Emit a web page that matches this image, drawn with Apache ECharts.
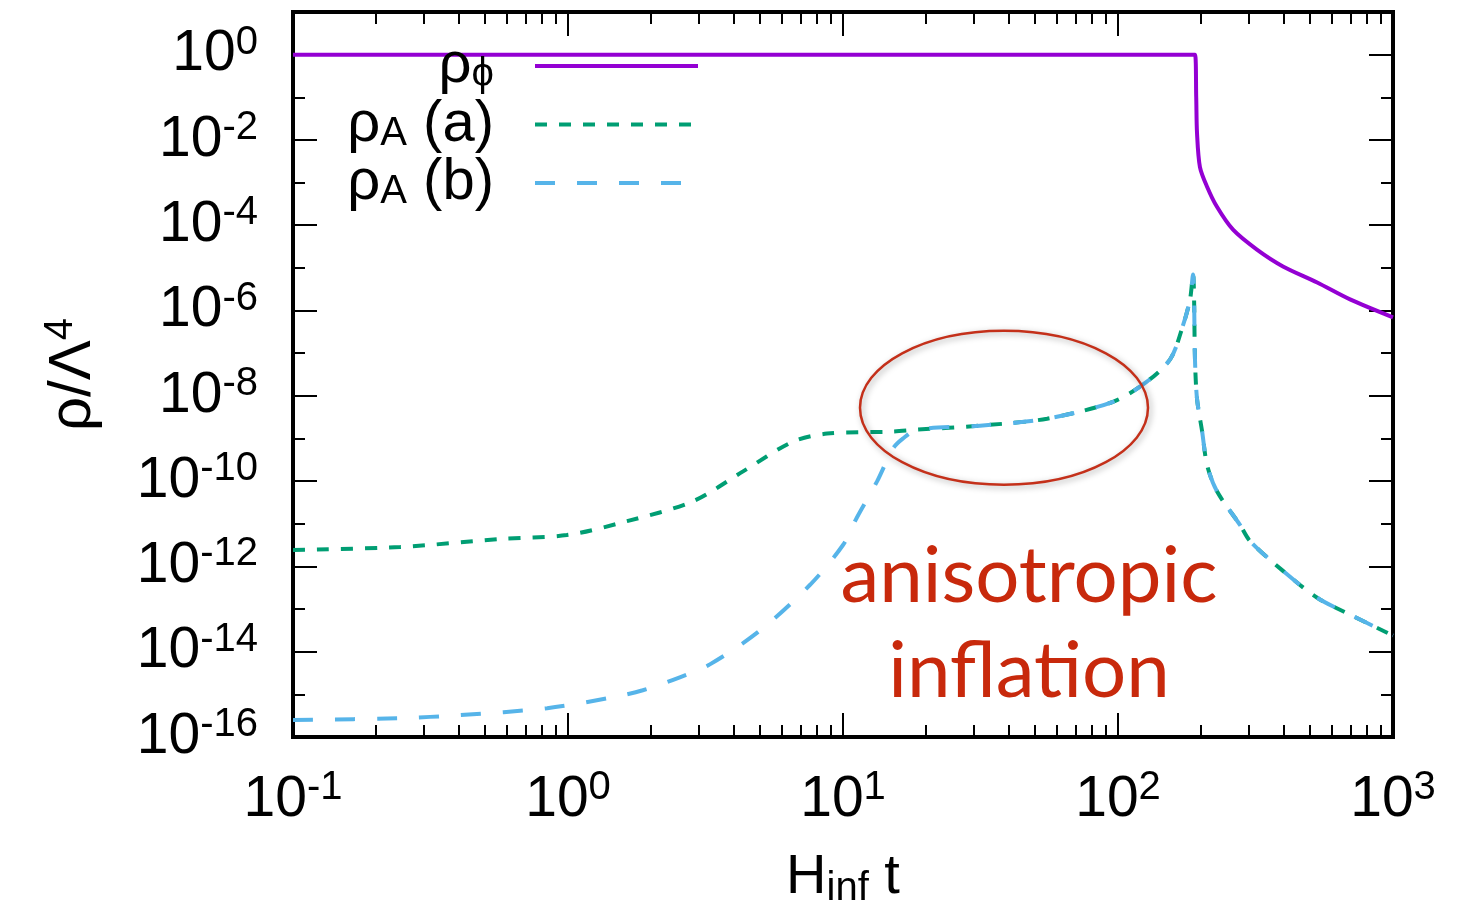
<!DOCTYPE html>
<html>
<head>
<meta charset="utf-8">
<script src="https://cdn.jsdelivr.net/npm/echarts@6/dist/echarts.min.js"></script>
<style>
html, body { margin: 0; padding: 0; background: #fff; }
#main { width: 1462px; height: 914px; }
</style>
</head>
<body>
<div id="main"></div>
<script>
// rho_phi (inflaton energy density)
var phiT   = [0.1, 1, 10, 100, 185, 190.5, 192.5, 193.8, 198.6, 211, 229, 262, 320, 398, 530, 698, 1000];
var phiRho = [1, 1, 1, 1, 1, 1, 0.1, 1.44e-2, 2.31e-3, 7.9e-4, 2.7e-4, 7.85e-5, 2.68e-5, 1.08e-5, 4.56e-6, 1.83e-6, 6.95e-7];

// rho_A, initial condition (a)
var aT   = [0.1, 0.245, 0.566, 0.99, 1.64, 2.85, 4.33, 6.58, 8.75, 15.2, 18.6, 31.5, 55.2, 95.9, 127, 155, 172, 182.8, 187.5,
            189.1, 190.5, 193.8, 202.3, 211, 229, 278, 302, 398, 530, 698, 1000];
var aRho = [2.43e-12, 2.85e-12, 4.39e-12, 5.43e-12, 1.15e-11, 3.37e-11, 1.69e-10, 8.45e-10, 1.30e-9, 1.45e-9, 1.61e-9, 2.0e-9, 2.91e-9, 7.24e-9, 2.12e-8, 7.3e-8, 4.3e-7, 1.83e-6, 7.0e-6,
            1.83e-6, 7.3e-8, 8.5e-9, 1.45e-9, 2.33e-10, 5.77e-11, 9.3e-12, 3.94e-12, 7.85e-13, 1.84e-13, 7.4e-14, 2.39e-14];

// rho_A, initial condition (b)
var bT   = [0.1, 0.245, 0.405, 0.84, 1.46, 1.87, 2.55, 3.28, 4.99, 7.59, 10, 11.2, 13.3, 15.2, 16.5, 18.6, 31.5, 55.2, 95.9, 127, 155, 172, 182.8, 187.5,
            189.1, 190.5, 193.8, 202.3, 211, 229, 278, 302, 398, 530, 698, 1000];
var bRho = [2.49e-16, 2.77e-16, 3.26e-16, 4.74e-16, 8.57e-16, 1.25e-15, 2.51e-15, 5.05e-15, 3.13e-14, 3.71e-13, 3.18e-12, 1.35e-11, 9.86e-11, 5.81e-10, 9.93e-10, 1.61e-9, 2.0e-9, 2.91e-9, 7.24e-9, 2.12e-8, 7.3e-8, 4.3e-7, 1.83e-6, 7.0e-6,
            1.83e-6, 7.3e-8, 8.5e-9, 1.45e-9, 2.33e-10, 5.77e-11, 9.3e-12, 3.94e-12, 7.85e-13, 1.84e-13, 7.4e-14, 2.39e-14];

// ticks
var xMajor = [0.1, 1, 10, 100, 1000];
var xMinor = [0.2, 0.3, 0.4, 0.5, 0.6, 0.7, 0.8, 0.9, 2, 3, 4, 5, 6, 7, 8, 9,
              20, 30, 40, 50, 60, 70, 80, 90, 200, 300, 400, 500, 600, 700, 800, 900];
var yMajor = [1, 1e-2, 1e-4, 1e-6, 1e-8, 1e-10, 1e-12, 1e-14, 1e-16];
var yMinor = [1e-1, 1e-3, 1e-5, 1e-7, 1e-9, 1e-11, 1e-13, 1e-15];

var seriesNames = ['ρφ', 'ρA (a)', 'ρA (b)'];
var legendRich = {
  'ρφ': '{b|ρ}{s|ϕ}{gap|}',
  'ρA (a)': '{b|ρ}{s|A}{b| (a)}{gap|}',
  'ρA (b)': '{b|ρ}{s|A}{b| (b)}{gap|}'
};

function zip(xs, ys) {
  return xs.map(function (x, i) { return [x, ys[i]]; });
}

var FONT = 'Liberation Sans, Arial, sans-serif';
var labelRich = {
  b: { fontSize: 57, fontFamily: FONT, color: '#000', lineHeight: 64 },
  s: { fontSize: 40, fontFamily: FONT, color: '#000', lineHeight: 20, verticalAlign: 'top' }
};

function expLabel(v) {
  return '{b|10}{s|' + Math.round(Math.log10(v)) + '}';
}

function axis(dim, pos, ticks, len, withLabel) {
  var a = {
    type: 'log', logBase: 10, position: pos,
    min: dim === 'x' ? 0.1 : 1e-16,
    max: dim === 'x' ? 1000 : 10,
    axisLine: { show: false },
    splitLine: { show: false },
    minorTick: { show: false },
    axisTick: { show: true, inside: true, length: len, customValues: ticks,
                lineStyle: { color: '#000', width: 2 } },
    axisLabel: { show: false }
  };
  if (withLabel) {
    a.axisLabel = {
      show: true, customValues: ticks, formatter: expLabel,
      margin: dim === 'x' ? 31 : 35, rich: labelRich
    };
  }
  return a;
}

var xAxes = [axis('x', 'bottom', xMajor, 24, true), axis('x', 'bottom', xMinor, 12, false),
             axis('x', 'top', xMajor, 24, false), axis('x', 'top', xMinor, 12, false)];
var yAxes = [axis('y', 'left', yMajor, 24, true), axis('y', 'left', yMinor, 12, false),
             axis('y', 'right', yMajor, 24, false), axis('y', 'right', yMinor, 12, false)];

xAxes[0].name = '{b|H}{s|inf}{b| t}';
xAxes[0].nameLocation = 'middle';
xAxes[0].nameGap = 110;
xAxes[0].nameTextStyle = { rich: {
  b: { fontSize: 56, fontFamily: FONT, color: '#000', lineHeight: 62 },
  s: { fontSize: 40, fontFamily: FONT, color: '#000', lineHeight: 20, verticalAlign: 'bottom' }
} };

yAxes[0].name = '{b|ρ/Λ}{s|4}';
yAxes[0].nameLocation = 'middle';
yAxes[0].nameGap = 188;
yAxes[0].nameTextStyle = { rich: {
  b: { fontSize: 60, fontFamily: FONT, color: '#000', lineHeight: 64 },
  s: { fontSize: 40, fontFamily: FONT, color: '#000', lineHeight: 20, verticalAlign: 'top' }
} };

var myChart = echarts.init(document.getElementById('main'));
myChart.setOption({
  animation: false,
  backgroundColor: '#fff',
  grid: { left: 293, right: 69, top: 12, bottom: 174, show: true,
          borderWidth: 4, borderColor: '#000', backgroundColor: 'transparent' },
  xAxis: xAxes,
  yAxis: yAxes,
  legend: {
    orient: 'vertical', align: 'right', right: 762, top: 37, padding: 0,
    itemWidth: 163, itemHeight: 2, itemGap: 0.5,
    data: seriesNames,
    itemStyle: { opacity: 0 },
    lineStyle: { width: 4 },
    formatter: function (name) { return legendRich[name]; },
    textStyle: { rich: {
      b: { fontSize: 58, fontFamily: FONT, color: '#000', lineHeight: 58 },
      s: { fontSize: 40, fontFamily: FONT, color: '#000', lineHeight: 18, verticalAlign: 'bottom' },
      gap: { width: 36 }
    } }
  },
  series: [
    { name: seriesNames[0], type: 'line', data: zip(phiT, phiRho), symbol: 'none', smooth: 0.3,
      lineStyle: { color: '#9400d3', width: 4 }, itemStyle: { color: '#9400d3' } },
    { name: seriesNames[1], type: 'line', data: zip(aT, aRho), symbol: 'none', smooth: 0.3,
      lineStyle: { color: '#009e73', width: 4, type: [12, 12] }, itemStyle: { color: '#009e73' } },
    { name: seriesNames[2], type: 'line', data: zip(bT, bRho), symbol: 'none', smooth: 0.3,
      lineStyle: { color: '#56b4e9', width: 4, type: [20, 22] }, itemStyle: { color: '#56b4e9' } }
  ]
});

// annotation: ellipse around the attractor plateau, plus the label
var c = myChart.convertToPixel({ xAxisIndex: 0, yAxisIndex: 0 }, [38.5, 5.25e-9]);
myChart.setOption({
  graphic: [
    { type: 'ellipse', z: 10, shape: { cx: c[0], cy: c[1], rx: 144, ry: 77 },
      style: { fill: 'transparent', stroke: '#c4301a', lineWidth: 2.5,
               shadowBlur: 6, shadowColor: 'rgba(0,0,0,0.35)', shadowOffsetX: 2, shadowOffsetY: 2 } },
    { type: 'text', z: 10, x: 1029, y: 577,
      style: { text: 'anisotropic', fill: '#c8290c', font: '78px Lato', align: 'center', verticalAlign: 'middle',
               textAlign: 'center', textVerticalAlign: 'middle' } },
    { type: 'text', z: 10, x: 1029, y: 672,
      style: { text: 'inflation', fill: '#c8290c', font: '78px Lato', align: 'center', verticalAlign: 'middle',
               textAlign: 'center', textVerticalAlign: 'middle' } }
  ]
});
</script>
</body>
</html>
